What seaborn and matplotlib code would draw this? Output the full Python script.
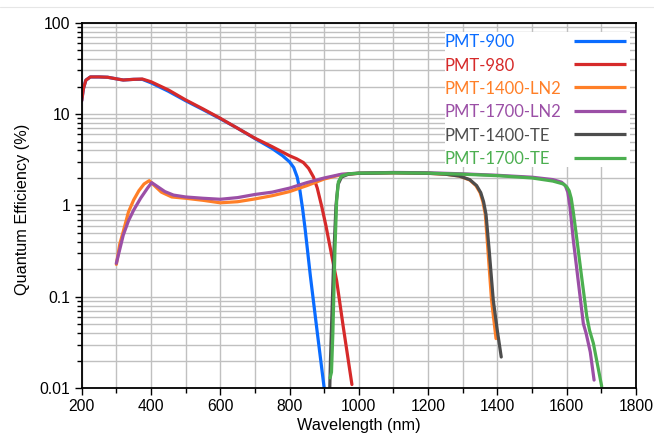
import numpy as np
import pandas as pd
import matplotlib
matplotlib.use("Agg")
import matplotlib.pyplot as plt
import seaborn as sns
from matplotlib.lines import Line2D
from matplotlib.patches import Rectangle
from matplotlib.ticker import FixedLocator, FuncFormatter

# ---------------- data ----------------
labels = ["PMT-900", "PMT-980", "PMT-1400-LN2", "PMT-1700-LN2", "PMT-1400-TE", "PMT-1700-TE"]
colors = ["#0A6CFF", "#D62A2A", "#FF7F27", "#9B4FA6", "#4D4D4D", "#4CAF50"]

wl_900 = [200, 205, 212, 225, 250, 275, 300, 320, 350, 375, 400, 450, 500, 550, 600, 650, 700,
          750, 780, 800, 812, 822, 830, 838, 845, 860, 878, 900]
qe_900 = [14.0, 19.0, 23.5, 25.5, 25.5, 25.3, 24.3, 23.6, 24.0, 24.0, 22.0, 17.8, 14.0, 11.2, 8.9,
          7.0, 5.4, 4.2, 3.5, 3.0, 2.6, 2.05, 1.45, 0.9, 0.55, 0.17, 0.047, 0.01]

wl_980 = [200, 205, 212, 225, 250, 275, 300, 320, 350, 375, 400, 450, 500, 550, 600, 650, 700,
          750, 800, 820, 840, 855, 869, 880, 893, 905, 917, 936, 955, 980]
qe_980 = [14.0, 19.0, 23.5, 25.5, 25.5, 25.3, 24.3, 23.6, 24.0, 24.2, 22.6, 18.4, 14.3, 11.4, 9.0,
          7.0, 5.45, 4.4, 3.5, 3.25, 2.95, 2.55, 2.05, 1.55, 0.97, 0.6, 0.35, 0.15, 0.047, 0.011]

wl_1400ln2 = [300, 310, 320, 335, 350, 365, 380, 395, 410, 430, 460, 500, 550, 600, 650, 700, 750,
              800, 850, 900, 950, 1000, 1100, 1200, 1250, 1290, 1320, 1338, 1350, 1358, 1365,
              1372, 1383, 1396]
qe_1400ln2 = [0.227, 0.38, 0.52, 0.85, 1.15, 1.45, 1.72, 1.87, 1.65, 1.40, 1.24, 1.20, 1.14, 1.07,
              1.10, 1.18, 1.28, 1.42, 1.65, 1.95, 2.18, 2.25, 2.28, 2.25, 2.2, 2.1, 1.9, 1.65,
              1.38, 1.1, 0.8, 0.35, 0.092, 0.035]

wl_1700ln2 = [300, 320, 335, 350, 370, 390, 402, 420, 440, 465, 500, 550, 600, 650, 700, 750, 800,
              850, 900, 950, 1000, 1100, 1200, 1300, 1400, 1500, 1560, 1585, 1596, 1603, 1609,
              1619, 1634, 1648, 1656, 1668, 1679]
qe_1700ln2 = [0.233, 0.475, 0.68, 0.89, 1.2, 1.55, 1.78, 1.6, 1.42, 1.3, 1.24, 1.2, 1.17, 1.22,
              1.32, 1.4, 1.55, 1.78, 2.0, 2.2, 2.26, 2.3, 2.28, 2.22, 2.14, 2.04, 1.92, 1.8, 1.65,
              1.4, 1.0, 0.42, 0.141, 0.051, 0.04, 0.025, 0.0123]

wl_1400te = [916, 918, 922, 928, 934, 940, 950, 970, 1000, 1100, 1200, 1250, 1290, 1320, 1340,
             1352, 1360, 1367, 1376, 1388, 1400, 1411]
qe_1400te = [0.01, 0.02, 0.06, 0.3, 1.0, 1.7, 2.05, 2.2, 2.25, 2.28, 2.25, 2.2, 2.1, 1.92, 1.65,
             1.38, 1.1, 0.8, 0.33, 0.092, 0.042, 0.022]

wl_1700te = [917, 921, 925, 931, 936, 941, 950, 970, 1000, 1100, 1200, 1300, 1400, 1500, 1560,
             1590, 1600, 1607, 1613, 1619, 1627, 1643, 1658, 1666, 1677, 1701]
qe_1700te = [0.013, 0.015, 0.04, 0.33, 1.15, 1.82, 2.1, 2.22, 2.26, 2.28, 2.26, 2.2, 2.12, 2.0,
             1.85, 1.72, 1.6, 1.45, 1.2, 0.85, 0.5, 0.166, 0.061, 0.043, 0.031, 0.0105]

x_ticks = [200, 400, 600, 800, 1000, 1200, 1400, 1600, 1800]
y_ticks = [0.01, 0.1, 1, 10, 100]

series_x = [wl_900, wl_980, wl_1400ln2, wl_1700ln2, wl_1400te, wl_1700te]
series_y = [qe_900, qe_980, qe_1400ln2, qe_1700ln2, qe_1400te, qe_1700te]

frames = []
for lab, xs, ys in zip(labels, series_x, series_y):
    frames.append(pd.DataFrame({"wl": xs, "qe": ys, "series": lab}))
df = pd.concat(frames, ignore_index=True)

# ---------------- style ----------------
sns.set_theme(style="ticks")
plt.rcParams["font.family"] = ["Liberation Sans", "DejaVu Sans"]

fig = plt.figure(figsize=(6.54, 4.33), dpi=100)
ax = fig.add_axes([81.7 / 654, 44.7 / 433, 554.3 / 654, 365.6 / 433])

ax.set_yscale("log")
ax.set_xlim(200, 1800)
ax.set_ylim(0.01, 100)

for lab, col in zip(labels, colors):
    sub = df[df["series"] == lab]
    sns.lineplot(data=sub, x="wl", y="qe", ax=ax, color=col, linewidth=2.3,
                 estimator=None, sort=False, legend=False)
for ln in ax.get_lines():
    ln.set_solid_joinstyle("round")
    ln.set_solid_capstyle("round")

# grid
ax.xaxis.set_major_locator(FixedLocator(x_ticks))
ax.xaxis.set_minor_locator(FixedLocator(list(range(300, 1800, 200))))
ax.yaxis.set_major_locator(FixedLocator(y_ticks))
minor_y = [m * 10.0 ** e for e in range(-2, 2) for m in range(2, 10)]
ax.yaxis.set_minor_locator(FixedLocator(minor_y))
ax.yaxis.set_major_formatter(FuncFormatter(lambda v, p: f"{v:g}"))
ax.yaxis.set_minor_formatter(FuncFormatter(lambda v, p: ""))

ax.grid(True, which="both", color="#C0C0C0", linewidth=1.0)
ax.set_axisbelow(True)

for s in ax.spines.values():
    s.set_color("black")
    s.set_linewidth(1.3)
    s.set_visible(True)

ax.tick_params(axis="both", which="major", direction="out", length=5, width=1.0,
               color="black", labelsize=11.3, labelcolor="black", pad=3)
ax.tick_params(axis="both", which="minor", direction="out", length=3.5, width=1.0,
               color="black")

ax.set_xlabel("Wavelength (nm)", fontsize=11.7, color="black")
ax.xaxis.set_label_coords(0.5, -0.081)
ax.set_ylabel("Quantum Efficiency (%)", fontsize=11.7, color="black")
ax.yaxis.set_label_coords(-0.094, 0.49)

# ---------------- legend (manual, text left, line right) ----------------
ax.add_patch(Rectangle((0.655, 0.6053), 0.334, 0.3693, transform=ax.transAxes,
                       facecolor="white", edgecolor="none", zorder=5))
row0 = 0.9508
step = 0.064
for i, (lab, col) in enumerate(zip(labels, colors)):
    yy = row0 - i * step
    ax.text(0.655, yy, lab, transform=ax.transAxes, color=col, fontsize=12,
            family=["Lato", "DejaVu Sans"], ha="left", va="center_baseline", zorder=6)
    ax.add_line(Line2D([0.8883, 0.9814], [yy, yy], transform=ax.transAxes, color=col,
                       linewidth=2.3, zorder=6, solid_capstyle="butt"))

# thin light rule at top of figure
fig.add_artist(Line2D([0, 1], [1 - 7 / 433, 1 - 7 / 433], transform=fig.transFigure,
                      color="#E6E6E6", linewidth=0.8))

fig.savefig("out.png", dpi=100, facecolor="white")
